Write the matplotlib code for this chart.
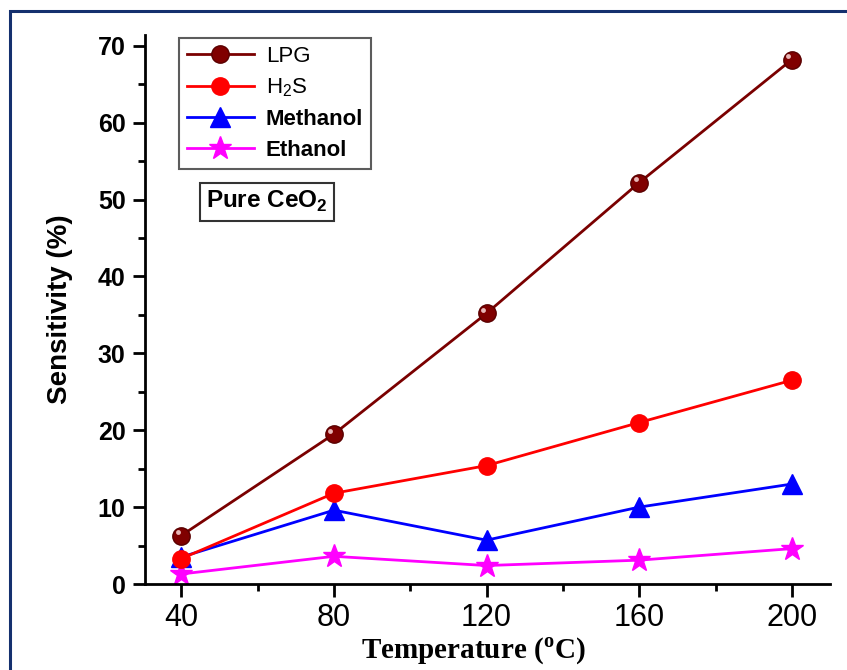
import matplotlib
matplotlib.use('Agg')
import matplotlib.pyplot as plt
import matplotlib.transforms as mtrans
from matplotlib.patches import Rectangle
from matplotlib.ticker import MultipleLocator

temps = [40, 80, 120, 160, 200]
lpg = [6.3, 19.5, 35.2, 52.2, 68.2]
h2s = [3.3, 11.8, 15.4, 21.0, 26.5]
methanol = [3.5, 9.6, 5.7, 10.0, 13.0]
ethanol = [1.3, 3.6, 2.4, 3.1, 4.6]

plt.rcParams['font.family'] = ['Liberation Sans', 'DejaVu Sans']

fig = plt.figure(figsize=(8.47, 6.70), dpi=100)
ax = fig.add_axes([145 / 847, 1 - 584 / 670, (830 - 145) / 847, (584 - 35) / 670])

# outer frame, cropped at right/bottom like the original
fig.patches.append(Rectangle((10 / 847, -0.05), 1.0, 1 - 11 / 670 + 0.05,
                             transform=fig.transFigure, fill=False,
                             edgecolor='#14306e', lw=2.2))

ax.plot(temps, lpg, color='#7a0000', lw=2, marker='o', ms=12.5,
        mfc='#800000', mec='#5a0000', label='LPG', zorder=5)
# little highlight on the LPG balls
shine = mtrans.offset_copy(ax.transData, fig=fig, x=-2.5, y=2.5, units='points')
ax.plot(temps, lpg, ls='none', marker='o', ms=3.5, mfc='#e8b8b8', mec='none',
        transform=shine, zorder=6)
ax.plot(temps, h2s, color='#ff0000', lw=2, marker='o', ms=12.5,
        mfc='#ff0000', mec='#ff0000', label=r'H$_\mathregular{2}$S', zorder=4)
ax.plot(temps, methanol, color='#0000ff', lw=2, marker='^', ms=14,
        mfc='#0000ff', mec='#0000ff', label='Methanol', zorder=3)
ax.plot(temps, ethanol, color='#ff00ff', lw=2, marker='*', ms=17,
        mfc='#ff00ff', mec='#ff00ff', label='Ethanol', zorder=2)

ax.set_xlim(30.5, 210)
ax.set_ylim(0, 71.4)
ax.xaxis.set_major_locator(MultipleLocator(40))
ax.xaxis.set_minor_locator(MultipleLocator(20))
ax.yaxis.set_major_locator(MultipleLocator(10))
ax.yaxis.set_minor_locator(MultipleLocator(5))

for side in ['top', 'right']:
    ax.spines[side].set_visible(False)
for side in ['left', 'bottom']:
    ax.spines[side].set_linewidth(2)

ax.tick_params(which='major', direction='out', length=9, width=2)
ax.tick_params(which='minor', direction='out', length=5, width=2)
ax.tick_params(axis='x', labelsize=22, pad=5)
ax.tick_params(axis='y', labelsize=18, pad=5)
for lab in ax.get_yticklabels():
    lab.set_fontweight('bold')

ax.set_ylabel('Sensitivity (%)', fontsize=20, fontweight='bold', labelpad=18)
ax.set_xlabel(r'Temperature ($^\mathregular{o}$C)', fontsize=21, fontweight='bold',
              family=['Liberation Serif'], labelpad=2)
ax.xaxis.label.set_x(0.48)

leg = ax.legend(loc='upper left', bbox_to_anchor=(0.05, 0.995), borderaxespad=0,
                fontsize=16, frameon=True, fancybox=False, handlelength=3.0,
                labelspacing=0.45, handletextpad=0.55, borderpad=0.35)
leg.get_frame().set_edgecolor('#333333')
leg.get_frame().set_linewidth(1.5)
for txt in leg.get_texts()[2:]:
    txt.set_fontweight('bold')

ax.text(46.5, 49.7, r'Pure CeO$_\mathregular{2}$', fontsize=17.5, fontweight='bold',
        va='center', ha='left',
        bbox=dict(boxstyle='square,pad=0.25', fc='white', ec='#333333', lw=1.5))

fig.savefig('out.png', dpi=100)
